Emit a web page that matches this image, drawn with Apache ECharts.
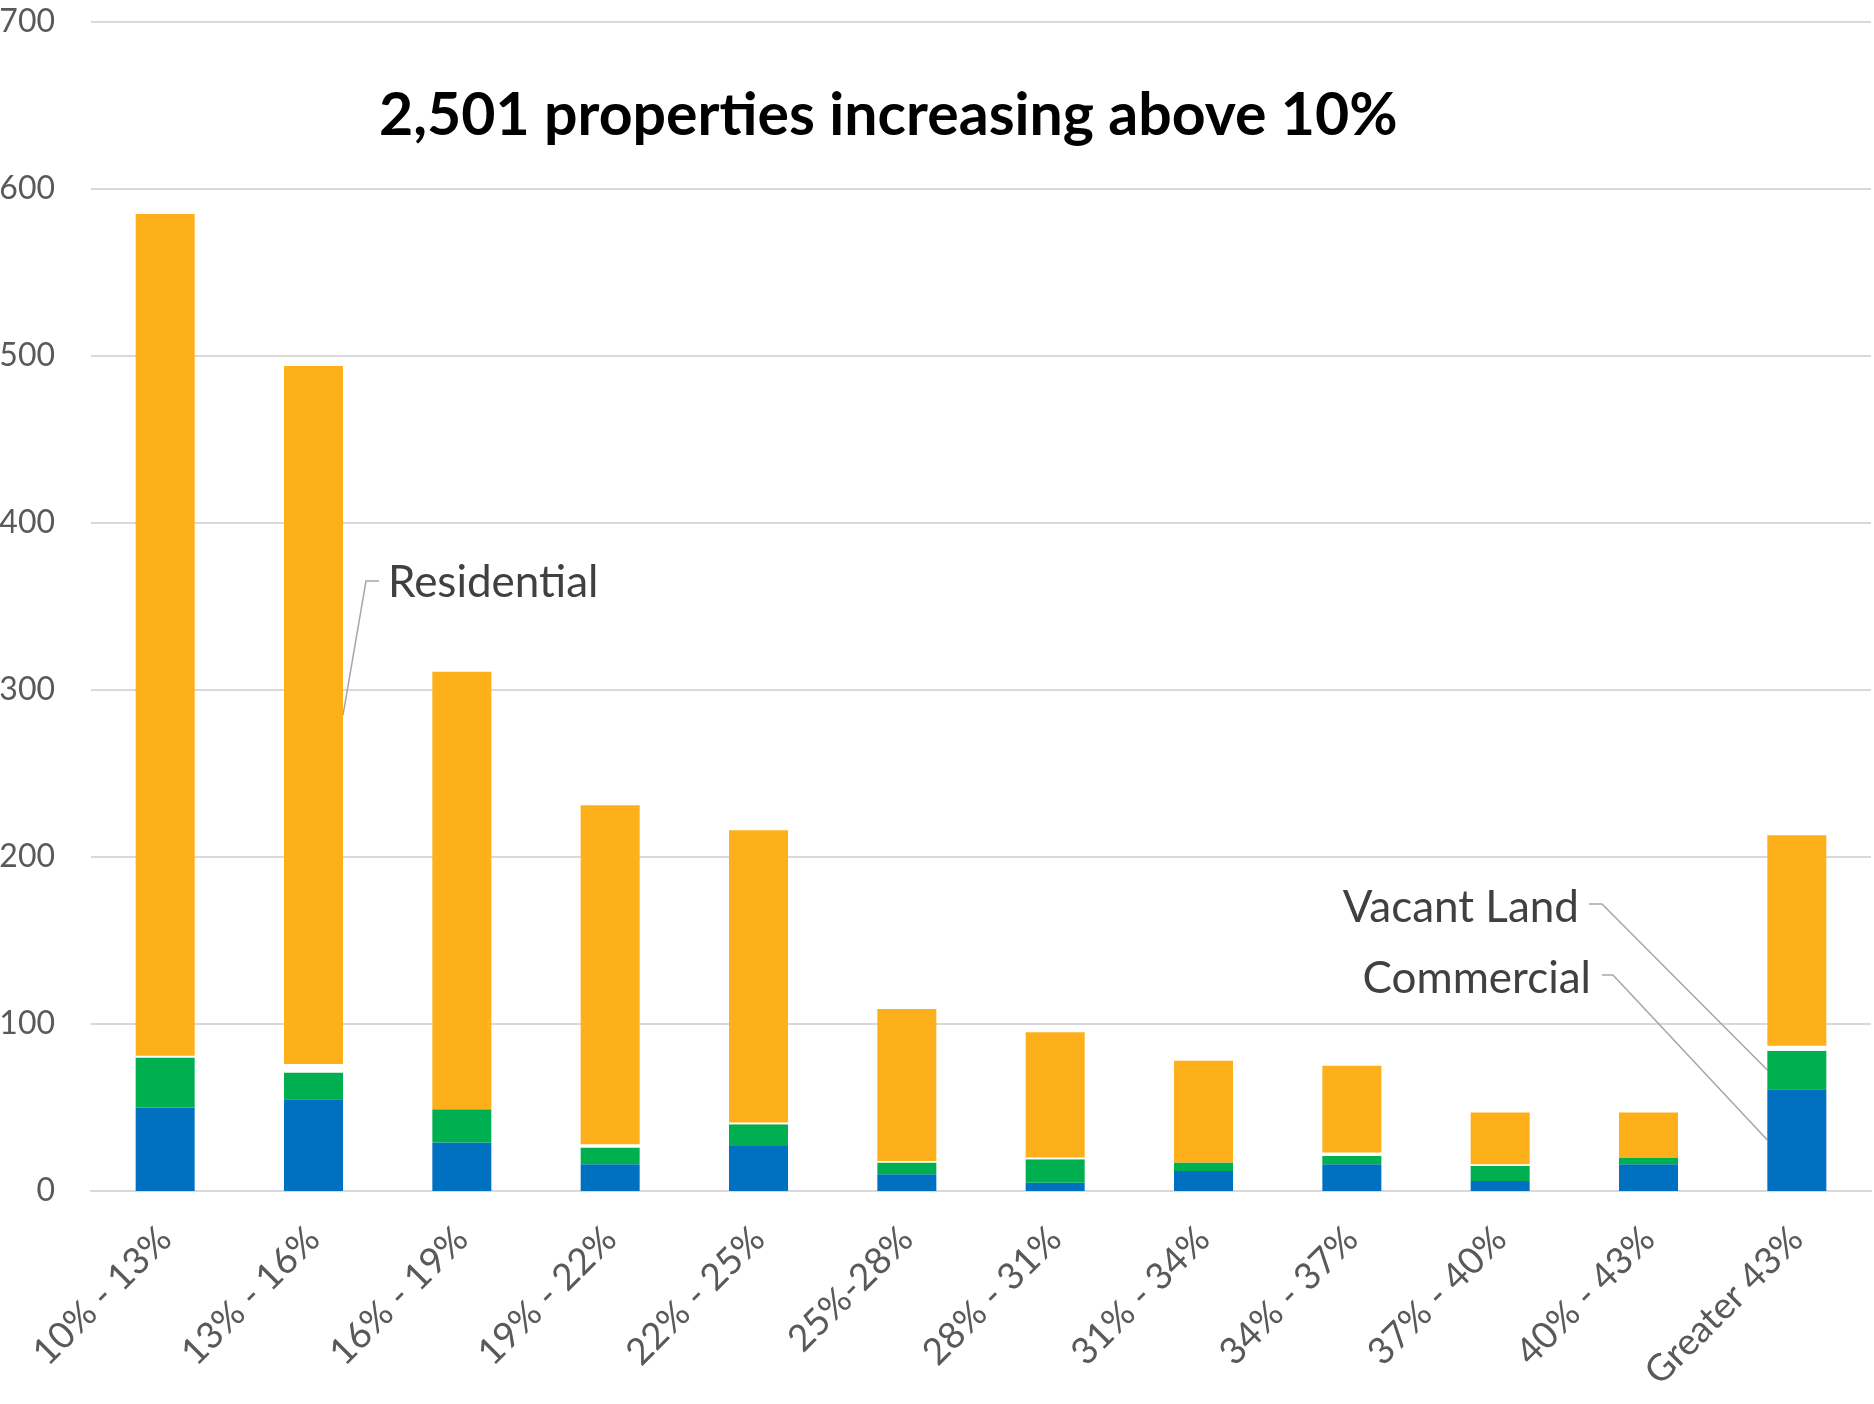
<!DOCTYPE html>
<html>
<head>
<meta charset="utf-8">
<script src="https://cdn.jsdelivr.net/npm/echarts@6.0.0/dist/echarts.min.js"></script>
<style>
  html, body { margin: 0; padding: 0; background: #fff; }
  #chart { width: 1874px; height: 1404px; }
</style>
</head>
<body>
<div id="chart"></div>
<script>
// categories (increase bands)
var categories = ['10% - 13%', '13% - 16%', '16% - 19%', '19% - 22%', '22% - 25%', '25%-28%',
  '28% - 31%', '31% - 34%', '34% - 37%', '37% - 40%', '40% - 43%', 'Greater 43%'];
// stacked counts, bottom to top
var commercial  = [50, 55, 29, 16, 27, 10, 5, 12, 16, 6, 16, 61];
var vacantLand  = [30, 16, 20, 10, 13, 7, 14, 5, 5, 9, 4, 23];
var other       = [1, 5, 0, 2, 1, 1, 1, 0, 2, 1, 0, 3];
var residential = [504, 418, 262, 203, 175, 91, 75, 61, 52, 31, 27, 126];
var yTicks = [0, 100, 200, 300, 400, 500, 600, 700];

var titleText = '2,501 properties increasing above 10%';
var FONT = 'Lato';
var BAR_W = 59;

var chart = echarts.init(document.getElementById('chart'));

function bar(name, data, color) {
  return {
    name: name,
    type: 'bar',
    stack: 'total',
    barWidth: BAR_W,
    data: data,
    itemStyle: { color: color },
    emphasis: { disabled: true }
  };
}

var option = {
  animation: false,
  backgroundColor: '#fff',
  textStyle: { fontFamily: FONT },
  title: {
    text: titleText,
    left: 374,
    top: 81,
    textStyle: { fontFamily: FONT, fontWeight: 'bold', fontSize: 59, color: '#000' }
  },
  grid: { left: 91, right: 3, top: 22, bottom: 213, outerBoundsMode: 'none' },
  xAxis: {
    type: 'category',
    data: categories,
    axisLine: { lineStyle: { color: '#D9D9D9', width: 2 } },
    axisTick: { show: false },
    axisLabel: { interval: 0, rotate: 45, margin: 42, fontSize: 37, color: '#595959', fontFamily: FONT }
  },
  yAxis: {
    type: 'value',
    min: yTicks[0],
    max: yTicks[yTicks.length - 1],
    interval: 100,
    axisLine: { show: false },
    axisTick: { show: false },
    splitLine: { lineStyle: { color: '#D9D9D9', width: 2 } },
    axisLabel: { margin: 36, fontSize: 32, color: '#595959', fontFamily: FONT }
  },
  series: [
    bar('Commercial', commercial, '#0070C0'),
    bar('Vacant Land', vacantLand, '#00B050'),
    bar('Other', other, '#FFFFFF'),
    bar('Residential', residential, '#FDB01A')
  ]
};
chart.setOption(option);

// leader-line anchors, computed from the data through the axes
function midOf(idx, series, below) {
  var base = 0;
  for (var i = 0; i < below.length; i++) base += below[i][idx];
  return chart.convertToPixel({ xAxisIndex: 0, yAxisIndex: 0 }, [idx, base + series[idx] / 2]);
}
var resPt = midOf(1, residential, [commercial, vacantLand, other]);
var vacPt = midOf(11, vacantLand, [commercial]);
var comPt = midOf(11, commercial, []);

var lineStyle = { stroke: '#A6A6A6', lineWidth: 1.5, fill: null };
var labelStyle = { fontFamily: FONT, fontSize: 44, fill: '#404040' };

chart.setOption({
  graphic: [
    { type: 'polyline', shape: { points: [[379, 581], [366, 581], [resPt[0] + BAR_W / 2, resPt[1]]] }, style: lineStyle, silent: true },
    { type: 'text', x: 388, y: 583, style: Object.assign({ text: 'Residential', align: 'left', verticalAlign: 'middle' }, labelStyle) },
    { type: 'polyline', shape: { points: [[1589, 904], [1602, 904], [vacPt[0] - BAR_W / 2, vacPt[1]]] }, style: lineStyle, silent: true },
    { type: 'text', x: 1579, y: 908, style: Object.assign({ text: 'Vacant Land', align: 'right', verticalAlign: 'middle' }, labelStyle) },
    { type: 'polyline', shape: { points: [[1602, 975], [1613, 975], [comPt[0] - BAR_W / 2, comPt[1]]] }, style: lineStyle, silent: true },
    { type: 'text', x: 1591, y: 979, style: Object.assign({ text: 'Commercial', align: 'right', verticalAlign: 'middle' }, labelStyle) }
  ]
});
</script>
</body>
</html>
